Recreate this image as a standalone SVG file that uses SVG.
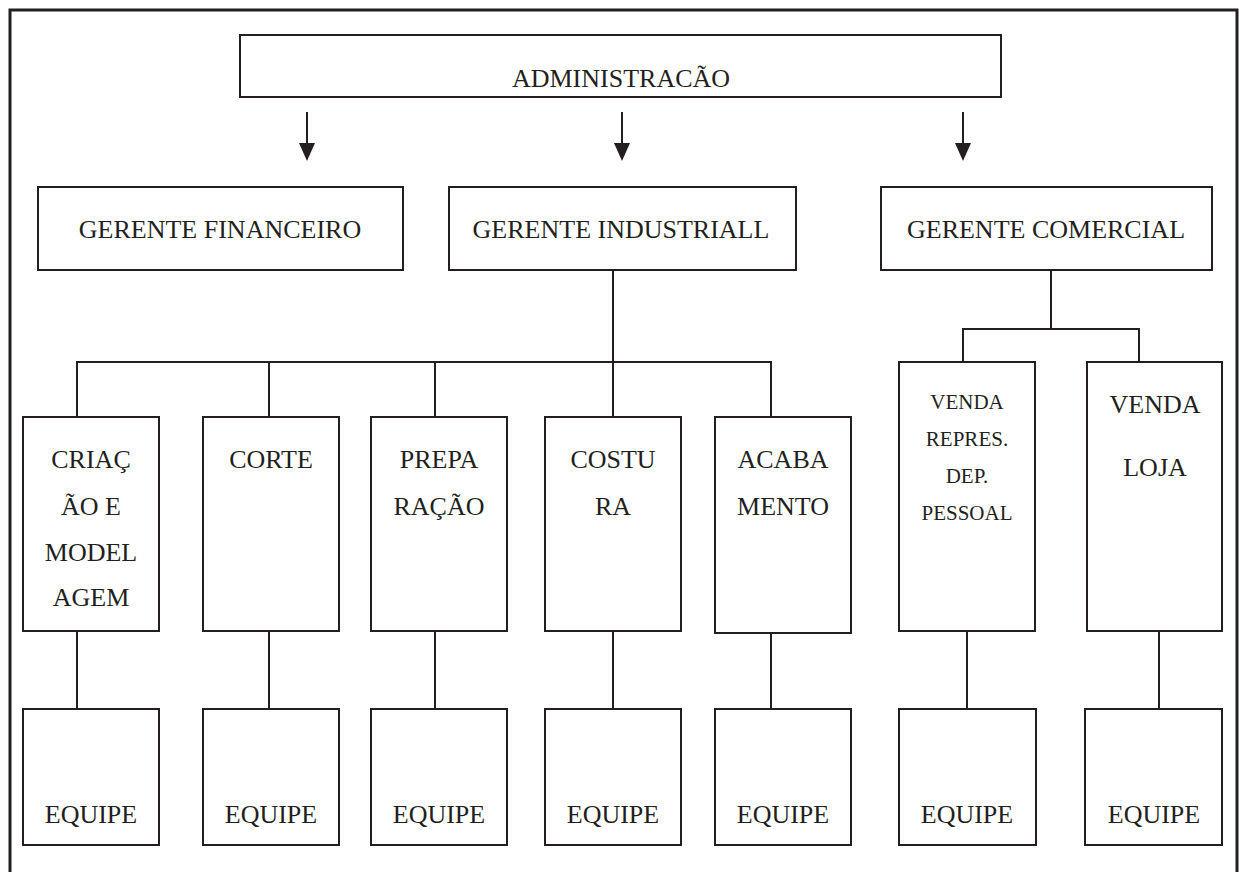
<svg xmlns="http://www.w3.org/2000/svg" width="1239" height="872" viewBox="0 0 1239 872">
<defs>
<style>
.box{fill:#fff;stroke:#231f20;stroke-width:2}
.ln{fill:none;stroke:#231f20;stroke-width:2}
.t{font-family:"Liberation Serif","Times New Roman",serif;font-size:26px;fill:#231f20;text-anchor:middle}
.s{font-size:21px}
</style>
<marker id="ah" markerWidth="16" markerHeight="18" refX="8" refY="18" markerUnits="userSpaceOnUse" orient="auto-start-reverse" viewBox="0 0 16 18">
<path d="M0,0 L16,0 L8,18 Z" fill="#231f20"/>
</marker>
</defs>
<rect width="1239" height="872" fill="#fff"/>
<path d="M10,875 L10,10 L1237,10 L1237,875" fill="none" stroke="#231f20" stroke-width="3"/>

<g id="connectors">
<line class="ln" x1="307" y1="112" x2="307" y2="144"/>
<path d="M299,143 L315,143 L307,161 Z" fill="#231f20"/>
<line class="ln" x1="622" y1="112" x2="622" y2="144"/>
<path d="M614,143 L630,143 L622,161 Z" fill="#231f20"/>
<line class="ln" x1="963" y1="112" x2="963" y2="144"/>
<path d="M955,143 L971,143 L963,161 Z" fill="#231f20"/>
<path class="ln" d="M613,270 L613,417 M77,417 L77,362 L771,362 L771,417 M269,362 L269,417 M435,362 L435,417"/>
<path class="ln" d="M1051,270 L1051,329 M899,362 M963,362 L963,329 L1139,329 L1139,362"/>
<path class="ln" d="M77,631 L77,709 M269,631 L269,709 M435,631 L435,709 M613,631 L613,709 M771,633 L771,709 M967,631 L967,709 M1159,631 L1159,709"/>
</g>

<g id="administracao"><rect class="box" x="240" y="35" width="761" height="62"/><text class="t" x="621" y="87">ADMINISTRACÃO</text></g>
<g id="gerente-financeiro"><rect class="box" x="38" y="187" width="365" height="83"/><text class="t" x="220" y="238">GERENTE FINANCEIRO</text></g>
<g id="gerente-industrial"><rect class="box" x="449" y="187" width="347" height="83"/><text class="t" x="621" y="238">GERENTE INDUSTRIALL</text></g>
<g id="gerente-comercial"><rect class="box" x="881" y="187" width="331" height="83"/><text class="t" x="1046" y="238">GERENTE COMERCIAL</text></g>

<g id="criacao"><rect class="box" x="23" y="417" width="136" height="214"/>
<text class="t" x="91" y="468">CRIAÇ</text><text class="t" x="91" y="515">ÃO E</text><text class="t" x="91" y="561">MODEL</text><text class="t" x="91" y="606">AGEM</text></g>
<g id="corte"><rect class="box" x="203" y="417" width="136" height="214"/><text class="t" x="271" y="468">CORTE</text></g>
<g id="preparacao"><rect class="box" x="371" y="417" width="136" height="214"/><text class="t" x="439" y="468">PREPA</text><text class="t" x="439" y="515">RAÇÃO</text></g>
<g id="costura"><rect class="box" x="545" y="417" width="136" height="214"/><text class="t" x="613" y="468">COSTU</text><text class="t" x="613" y="515">RA</text></g>
<g id="acabamento"><rect class="box" x="715" y="417" width="136" height="216"/><text class="t" x="783" y="468">ACABA</text><text class="t" x="783" y="515">MENTO</text></g>
<g id="venda-repres"><rect class="box" x="899" y="362" width="136" height="269"/>
<text class="t s" x="967" y="409">VENDA</text><text class="t s" x="967" y="446">REPRES.</text><text class="t s" x="967" y="483">DEP.</text><text class="t s" x="967" y="520">PESSOAL</text></g>
<g id="venda-loja"><rect class="box" x="1087" y="362" width="135" height="269"/><text class="t" x="1155" y="413">VENDA</text><text class="t" x="1155" y="476">LOJA</text></g>

<g id="equipe-1"><rect class="box" x="23" y="709" width="136" height="136"/><text class="t" x="91" y="823">EQUIPE</text></g>
<g id="equipe-2"><rect class="box" x="203" y="709" width="136" height="136"/><text class="t" x="271" y="823">EQUIPE</text></g>
<g id="equipe-3"><rect class="box" x="371" y="709" width="136" height="136"/><text class="t" x="439" y="823">EQUIPE</text></g>
<g id="equipe-4"><rect class="box" x="545" y="709" width="136" height="136"/><text class="t" x="613" y="823">EQUIPE</text></g>
<g id="equipe-5"><rect class="box" x="715" y="709" width="136" height="136"/><text class="t" x="783" y="823">EQUIPE</text></g>
<g id="equipe-6"><rect class="box" x="899" y="709" width="137" height="136"/><text class="t" x="967" y="823">EQUIPE</text></g>
<g id="equipe-7"><rect class="box" x="1085" y="709" width="137" height="136"/><text class="t" x="1154" y="823">EQUIPE</text></g>
</svg>
